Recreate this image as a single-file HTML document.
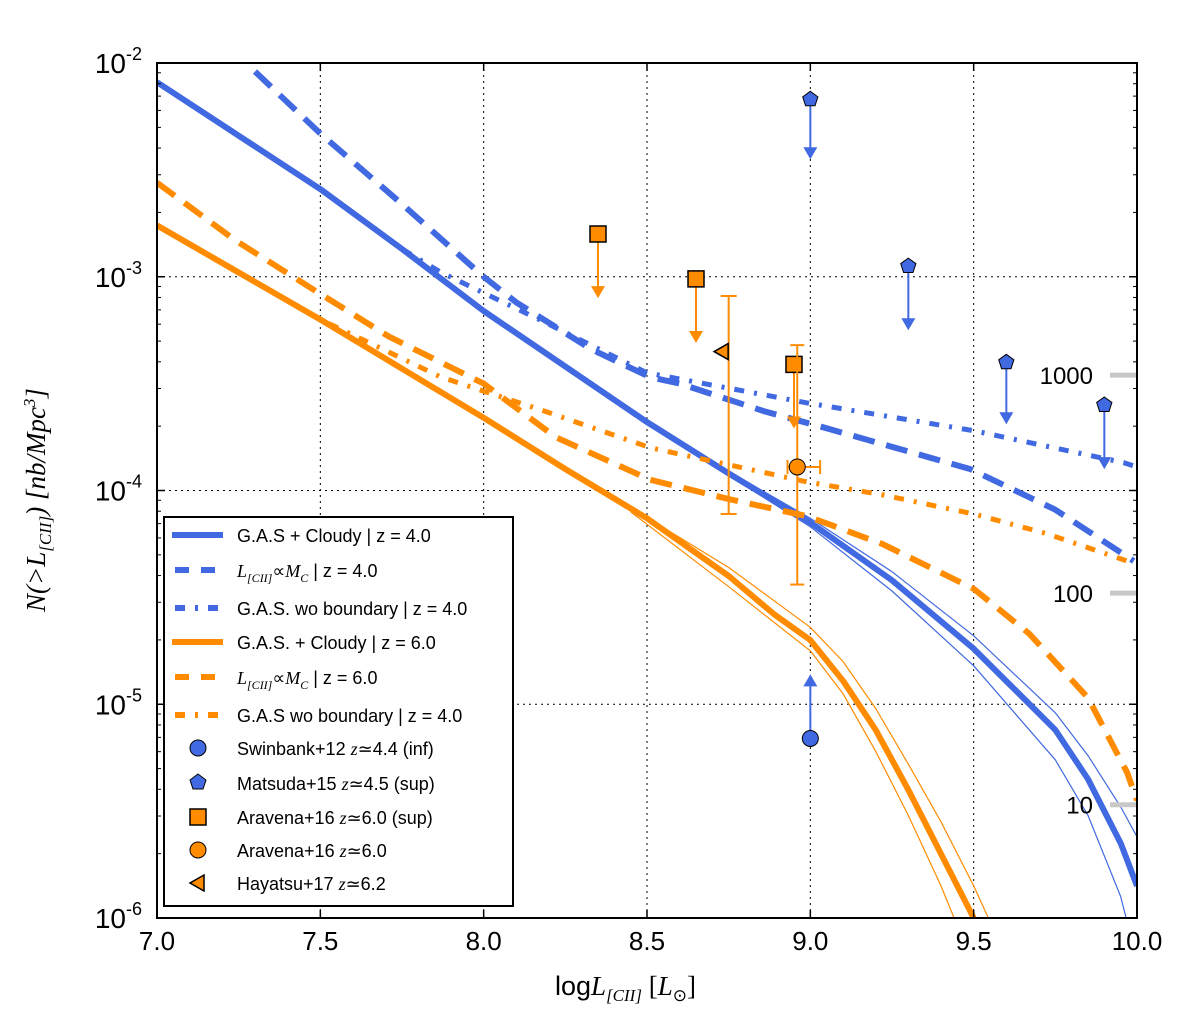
<!DOCTYPE html>
<html><head><meta charset="utf-8"><style>
body{margin:0;background:#fff}
svg{display:block;font-family:"Liberation Sans",sans-serif}
</style></head><body>
<svg id="c" width="1200" height="1019"></svg>
<script>
const xTicks=[7.0,7.5,8.0,8.5,9.0,9.5,10.0];
const yTickExp=[-2,-3,-4,-5,-6];
const blueX=[7.0,7.25,7.5,7.75,8.0,8.25,8.5,8.75,9.0,9.25,9.5,9.75,9.85,9.95,10.0];
const blueSolid=[-2.09,-2.34,-2.59,-2.87,-3.16,-3.42,-3.68,-3.92,-4.15,-4.42,-4.74,-5.12,-5.35,-5.65,-5.85];
const blueHiX=[8.75,9.0,9.25,9.5,9.75,9.85,9.95,10.0];
const blueHi=[-3.91,-4.13,-4.38,-4.68,-5.04,-5.24,-5.48,-5.62];
const blueLo=[-3.93,-4.17,-4.47,-4.82,-5.26,-5.52,-5.90,-6.2];
const blueDashX=[7.3,7.5,7.75,8.0,8.1,8.33,8.51,8.6,8.86,9.03,9.49,9.75,9.99];
const blueDash=[-2.04,-2.33,-2.66,-3.0,-3.12,-3.34,-3.47,-3.50,-3.63,-3.70,-3.90,-4.09,-4.33];
const blueDotX=[7.0,7.25,7.5,7.75,7.87,8.17,8.5,8.99,9.5,9.96,10.0];
const blueDot=[-2.09,-2.34,-2.59,-2.87,-2.98,-3.20,-3.45,-3.59,-3.72,-3.87,-3.89];
const orX=[7.0,7.25,7.5,7.75,8.0,8.25,8.5,8.75,8.89,9.0,9.1,9.2,9.3,9.4,9.5];
const orSolid=[-2.76,-2.98,-3.20,-3.43,-3.66,-3.90,-4.13,-4.40,-4.58,-4.70,-4.89,-5.12,-5.40,-5.70,-6.0];
const orHiX=[8.45,8.75,9.0,9.1,9.2,9.3,9.4,9.5,9.56];
const orHi=[-4.08,-4.36,-4.64,-4.80,-5.02,-5.28,-5.55,-5.85,-6.05];
const orLoX=[8.45,8.75,9.0,9.1,9.2,9.3,9.4,9.44];
const orLo=[-4.10,-4.45,-4.75,-4.95,-5.22,-5.52,-5.85,-6.0];
const orDashX=[7.0,7.24,7.5,7.71,8.0,8.22,8.51,8.75,8.99,9.22,9.5,9.67,9.85,9.97,10.0];
const orDash=[-2.56,-2.83,-3.08,-3.28,-3.50,-3.75,-3.95,-4.04,-4.12,-4.25,-4.46,-4.67,-4.97,-5.32,-5.45];
const orDotX=[7.0,7.25,7.5,7.61,7.87,8.17,8.51,8.99,9.22,9.5,9.72,9.99];
const orDot=[-2.76,-2.98,-3.20,-3.28,-3.47,-3.62,-3.80,-3.96,-4.02,-4.11,-4.20,-4.34];
const matsudaX=[9.0,9.3,9.6,9.9];
const matsudaY=[-2.17,-2.95,-3.40,-3.60];
const matsudaTo=[-2.45,-3.25,-3.69,-3.90];
const swinX=[9.0],swinY=[-5.16],swinTo=[-4.86];
const araSupX=[8.35,8.65,8.95];
const araSupY=[-2.80,-3.01,-3.41];
const araSupTo=[-3.10,-3.31,-3.71];
const araX=[8.96],araY=[-3.89],araErrHi=[-3.32],araErrLo=[-4.44],araXlo=[8.93],araXhi=[9.03];
const hayX=[8.73],hayY=[-3.35],hayErrHi=[-3.09],hayErrLo=[-4.11],hayErrX=[8.75];
const refLabels=["1000","100","10"];
const refLevels=[-3.46,-4.48,-5.47];

const X0=157,X1=1137,Y0=63,Y1=918;
const sx=v=>X0+(v-7)/3*(X1-X0);
const sy=e=>Y0+(-2-e)/4*(Y1-Y0);
const B="#4169E1",O="#FF8C00";
const svg=document.getElementById('c');
const NS="http://www.w3.org/2000/svg";
function mk(t,a,p){const e=document.createElementNS(NS,t);for(const k in a)e.setAttribute(k,a[k]);(p||svg).appendChild(e);return e;}
const defs=mk('defs',{});const cp=mk('clipPath',{id:'cp'},defs);mk('rect',{x:X0,y:Y0,width:X1-X0,height:Y1-Y0},cp);
xTicks.forEach(v=>{if(v>7&&v<10){const g=mk('line',{x1:sx(v),x2:sx(v),y1:Y0,y2:Y1,stroke:'#000','stroke-dasharray':'2,4','stroke-width':1});

}});
yTickExp.forEach(e=>{if(e<-2&&e>-6){const g=mk('line',{x1:X0,x2:X1,y1:sy(e),y2:sy(e),stroke:'#000','stroke-dasharray':'2,4','stroke-width':1});

}});
const pg=mk('g',{'clip-path':'url(#cp)'});
function line(xs,ys,col,w,dash,name){const d=xs.map((x,i)=>(i?'L':'M')+sx(x).toFixed(1)+','+sy(ys[i]).toFixed(1)).join('');
const p=mk('path',{d:d,fill:'none',stroke:col,'stroke-width':w,'stroke-dasharray':dash||'none','stroke-linejoin':'round'},pg);

}
line(blueX,blueSolid,B,6,null,'gas-cloudy-z4-line');
line(blueHiX,blueHi,B,1.2,null,'gas-cloudy-z4-upper');
line(blueHiX,blueLo,B,1.2,null,'gas-cloudy-z4-lower');
line(blueDashX,blueDash,B,6,'22,12','lcii-mc-z4-line');
line(blueDotX,blueDot,B,5,'10,10,3,10','gas-wo-boundary-z4-line');
line(orX,orSolid,O,6,null,'gas-cloudy-z6-line');
line(orHiX,orHi,O,1.2,null,'gas-cloudy-z6-upper');
line(orLoX,orLo,O,1.2,null,'gas-cloudy-z6-lower');
line(orDashX,orDash,O,6,'22,12','lcii-mc-z6-line');
line(orDotX,orDot,O,5,'10,10,3,10','gas-wo-boundary-z6-line');
refLabels.forEach((t,i)=>{const y=sy(refLevels[i]);
const l=mk('line',{x1:1110,x2:1137,y1:y,y2:y,stroke:'#c8c8c8','stroke-width':5});


const tx=mk('text',{x:1093,y:y+9,'text-anchor':'end','font-size':24});tx.textContent=t;

});
function arrow(x,y1,y2,col,name){const X=sx(x),A=sy(y1),Bp=sy(y2);const dir=Bp>A?1:-1;
const g=mk('g',{});
mk('line',{x1:X,x2:X,y1:A,y2:Bp-dir*10,stroke:col,'stroke-width':2},g);
mk('polygon',{points:`${X-7},${Bp-dir*12} ${X+7},${Bp-dir*12} ${X},${Bp}`,fill:col},g);}
function pent(cx,cy,r,g){let p=[];for(let k=0;k<5;k++){const a=-Math.PI/2+k*2*Math.PI/5;p.push((cx+r*Math.cos(a)).toFixed(1)+','+(cy+r*Math.sin(a)).toFixed(1));}
mk('polygon',{points:p.join(' '),fill:B,stroke:'#000','stroke-width':1},g);}
matsudaX.forEach((x,i)=>{arrow(x,matsudaY[i],matsudaTo[i],B,'matsuda-arrow');const g=mk('g',{});
pent(sx(x),sy(matsudaY[i]),8,g);});
swinX.forEach((x,i)=>{arrow(x,swinY[i],swinTo[i],B,'swinbank-arrow');const c=mk('circle',{cx:sx(x),cy:sy(swinY[i]),r:8,fill:B,stroke:'#000'});
});
araSupX.forEach((x,i)=>{arrow(x,araSupY[i],araSupTo[i],O,'aravena-sup-arrow');const r=mk('rect',{x:sx(x)-8,y:sy(araSupY[i])-8,width:16,height:16,fill:O,stroke:'#000','stroke-width':1.5});
});
araX.forEach((x,i)=>{const g=mk('g',{stroke:O,'stroke-width':2});
const X=sx(x),a=sy(araErrHi[i]),b=sy(araErrLo[i]),y=sy(araY[i]);
mk('line',{x1:X,x2:X,y1:a,y2:b},g);mk('line',{x1:X-7,x2:X+7,y1:a,y2:a},g);mk('line',{x1:X-7,x2:X+7,y1:b,y2:b},g);
mk('line',{x1:sx(araXlo[i]),x2:sx(araXhi[i]),y1:y,y2:y},g);mk('line',{x1:sx(araXhi[i]),x2:sx(araXhi[i]),y1:y-7,y2:y+7},g);mk('line',{x1:sx(araXlo[i]),x2:sx(araXlo[i]),y1:y-7,y2:y+7},g);
const c=mk('circle',{cx:X,cy:y,r:8,fill:O,stroke:'#000'});});
hayX.forEach((x,i)=>{const g=mk('g',{stroke:O,'stroke-width':2});
const X=sx(hayErrX[i]),a=sy(hayErrHi[i]),b=sy(hayErrLo[i]);
mk('line',{x1:X,x2:X,y1:a,y2:b},g);mk('line',{x1:X-8,x2:X+8,y1:a,y2:a},g);mk('line',{x1:X-8,x2:X+8,y1:b,y2:b},g);
const px=sx(x),py=sy(hayY[i]);const t=mk('polygon',{points:`${px-8},${py} ${px+6},${py-8} ${px+6},${py+8}`,fill:O,stroke:'#000','stroke-width':1.5});
});
const fr=mk('rect',{x:X0,y:Y0,width:X1-X0,height:Y1-Y0,fill:'none',stroke:'#000','stroke-width':2});

xTicks.forEach(v=>{const X=sx(v);mk('line',{x1:X,x2:X,y1:Y1,y2:Y1-8,stroke:'#000','stroke-width':1.5});mk('line',{x1:X,x2:X,y1:Y0,y2:Y0+8,stroke:'#000','stroke-width':1.5});
const t=mk('text',{x:X,y:950,'text-anchor':'middle','font-size':26});t.textContent=v.toFixed(1);
});
yTickExp.forEach(e=>{const Y=sy(e);mk('line',{x1:X0,x2:X0+8,y1:Y,y2:Y,stroke:'#000','stroke-width':1.5});mk('line',{x1:X1,x2:X1-8,y1:Y,y2:Y,stroke:'#000','stroke-width':1.5});
for(let k=2;k<10&&e>-6;k++){const ym=sy(e-1+Math.log10(k));mk('line',{x1:X0,x2:X0+4,y1:ym,y2:ym,stroke:'#000'});mk('line',{x1:X1,x2:X1-4,y1:ym,y2:ym,stroke:'#000'});}
const t=mk('text',{x:142,y:Y+10,'text-anchor':'end','font-size':28});t.innerHTML='10<tspan dy="-13" font-size="18">'+e+'</tspan>';
});
</script>
<svg width="1200" height="1019" style="position:absolute;left:0;top:0">
<text x="555" y="995" font-size="27" font-family="Liberation Sans">log<tspan font-family="Liberation Serif" font-style="italic">L</tspan><tspan font-size="17" dy="6" font-family="Liberation Serif" font-style="italic">[CII]</tspan><tspan dy="-6" font-family="Liberation Serif"> [</tspan><tspan font-family="Liberation Serif" font-style="italic">L</tspan><tspan font-size="17" dy="6">⊙</tspan><tspan dy="-6" font-family="Liberation Serif">]</tspan></text>
<text transform="translate(45,500) rotate(-90)" text-anchor="middle" font-size="27" font-family="Liberation Serif" font-style="italic">N(&gt;L<tspan font-size="17" dy="6">[CII]</tspan><tspan dy="-6">) [nb/Mpc</tspan><tspan font-size="17" dy="-10">3</tspan><tspan dy="10">]</tspan></text>
<g font-family="Liberation Sans" font-size="18">
<rect x="164" y="517" width="349" height="389" fill="#fff" stroke="#000" stroke-width="2"/>
<line x1="172" x2="223" y1="535" y2="535" stroke="#4169E1" stroke-width="6"/><text x="237" y="542">G.A.S + Cloudy | z = 4.0</text>
<line x1="175" x2="223" y1="570" y2="570" stroke="#4169E1" stroke-width="6" stroke-dasharray="14,12"/><text x="237" y="577"><tspan font-family="Liberation Serif" font-style="italic">L</tspan><tspan font-family="Liberation Serif" font-style="italic" font-size="12" dy="5">[CII]</tspan><tspan dy="-5">∝</tspan><tspan font-family="Liberation Serif" font-style="italic">M</tspan><tspan font-family="Liberation Serif" font-style="italic" font-size="12" dy="5">C</tspan><tspan dy="-5"> | z = 4.0</tspan></text>
<line x1="175" x2="223" y1="608" y2="608" stroke="#4169E1" stroke-width="6" stroke-dasharray="10,10,3,10"/><text x="237" y="615">G.A.S. wo boundary | z = 4.0</text>
<line x1="172" x2="223" y1="642" y2="642" stroke="#FF8C00" stroke-width="6"/><text x="237" y="649">G.A.S. + Cloudy | z = 6.0</text>
<line x1="175" x2="223" y1="677" y2="677" stroke="#FF8C00" stroke-width="6" stroke-dasharray="14,12"/><text x="237" y="684"><tspan font-family="Liberation Serif" font-style="italic">L</tspan><tspan font-family="Liberation Serif" font-style="italic" font-size="12" dy="5">[CII]</tspan><tspan dy="-5">∝</tspan><tspan font-family="Liberation Serif" font-style="italic">M</tspan><tspan font-family="Liberation Serif" font-style="italic" font-size="12" dy="5">C</tspan><tspan dy="-5"> | z = 6.0</tspan></text>
<line x1="175" x2="223" y1="715" y2="715" stroke="#FF8C00" stroke-width="6" stroke-dasharray="10,10,3,10"/><text x="237" y="722">G.A.S wo boundary | z = 4.0</text>
<circle cx="198" cy="748" r="8" fill="#4169E1" stroke="#000"/><text x="237" y="755">Swinbank+12 <tspan font-family="Liberation Serif" font-style="italic">z</tspan>≃4.4 (inf)</text>
<polygon points="198,774 206,780 203,789 193,789 190,780" fill="#4169E1" stroke="#000"/><text x="237" y="790">Matsuda+15 <tspan font-family="Liberation Serif" font-style="italic">z</tspan>≃4.5 (sup)</text>
<rect x="190" y="809" width="16" height="16" fill="#FF8C00" stroke="#000" stroke-width="1.5"/><text x="237" y="824">Aravena+16 <tspan font-family="Liberation Serif" font-style="italic">z</tspan>≃6.0 (sup)</text>
<circle cx="198" cy="850" r="8" fill="#FF8C00" stroke="#000"/><text x="237" y="857">Aravena+16 <tspan font-family="Liberation Serif" font-style="italic">z</tspan>≃6.0</text>
<polygon points="190,883 204,875 204,891" fill="#FF8C00" stroke="#000" stroke-width="1.5"/><text x="237" y="890">Hayatsu+17 <tspan font-family="Liberation Serif" font-style="italic">z</tspan>≃6.2</text>
</g>
</svg>
</body></html>
